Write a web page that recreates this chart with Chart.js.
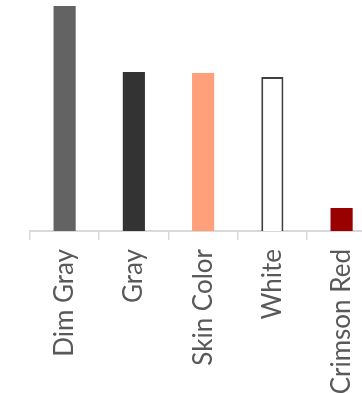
<!DOCTYPE html>
<html lang="en">
  <head>
    <meta charset="utf-8" />
    <title>Colours</title>
    <script src="https://cdn.jsdelivr.net/npm/chart.js"></script>
    <style>
      html, body { margin: 0; padding: 0; overflow: hidden; background: #fff; }
      #wrap { width: 382px; height: 393px; }
    </style>
  </head>
  <body>
    <div id="wrap">
      <canvas id="myChart"></canvas>
    </div>
    <script>
      // chart values
      const categories = ['Dim Gray', 'Gray', 'Skin Color', 'White', 'Crimson Red']
      const values = [97.4, 68.8, 68.4, 66.7, 10]
      const fillColors = ['#636363', '#333333', '#ffa07a', '#ffffff', '#990000']
      const edgeColors = ['#636363', '#333333', '#ffa07a', '#404040', '#990000']

      const data = {
        labels: categories,
        datasets: [
          {
            data: values,
            backgroundColor: fillColors,
            borderColor: edgeColors,
            borderWidth: [0, 0, 0, 2, 0],
            barPercentage: 0.64,
            categoryPercentage: 0.5,
          },
        ],
      }

      const config = {
        type: 'bar',
        data: data,
        options: {
          responsive: true,
          maintainAspectRatio: false,
          animation: false,
          layout: {
            padding: { left: 30, right: 2, top: 0, bottom: 0 },
          },
          plugins: {
            legend: { display: false },
            tooltip: { enabled: false },
          },
          scales: {
            x: {
              offset: true,
              grid: {
                offset: true,
                drawOnChartArea: false,
                drawTicks: true,
                tickLength: 9,
                color: '#d9d9d9',
                lineWidth: 1.5,
              },
              border: { color: '#d9d9d9', width: 2 },
              ticks: {
                maxRotation: 90,
                minRotation: 90,
                padding: 9,
                color: '#595959',
                font: { family: 'Lato', size: 26 },
              },
              afterFit: function (scale) {
                scale.height = 162
              },
            },
            y: {
              display: false,
              min: 0,
              max: 100,
            },
          },
        },
      }

      var myChart = new Chart(document.getElementById('myChart'), config)
    </script>
  </body>
</html>
